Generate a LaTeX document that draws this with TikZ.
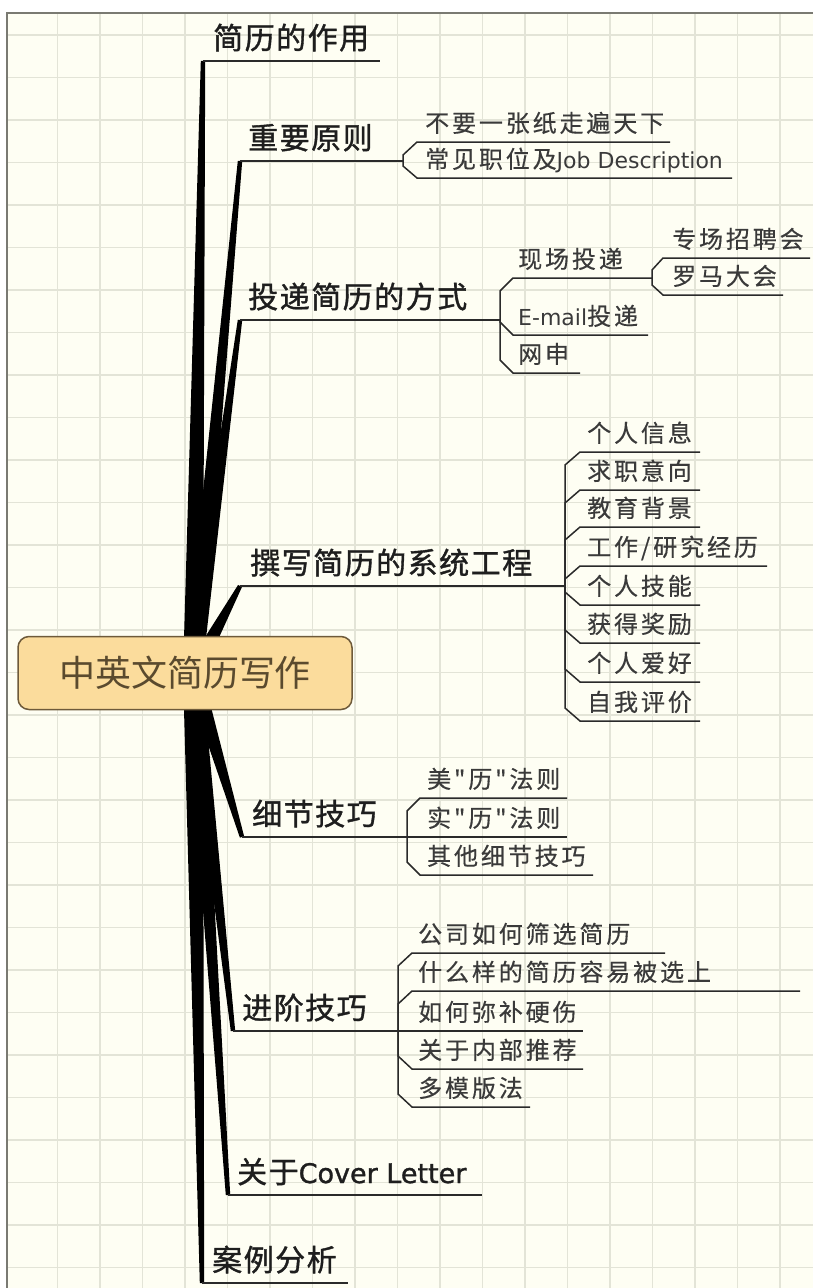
\documentclass[tikz,border=0pt]{standalone}
\usepackage{fontspec}
\setmainfont{DejaVu Sans}
\newfontfamily\cjkmain[LetterSpace=5,FakeBold=1.2]{Noto Sans CJK SC}
\newfontfamily\cjksub[LetterSpace=12,FakeBold=0.4]{Noto Sans CJK SC}
\newfontfamily\cjkroot{Noto Sans CJK SC}
\newfontfamily\latfont{DejaVu Sans}
\newfontfamily\latboldish[FakeBold=1.2]{DejaVu Sans}
\usetikzlibrary{calc}
\definecolor{bgcol}{HTML}{FEFEF3}
\definecolor{gridcol}{HTML}{E3E4D7}
\definecolor{framecol}{HTML}{7A7A72}
\definecolor{maintext}{HTML}{1E1E1E}
\definecolor{subtext}{HTML}{3A3A3A}
\definecolor{linecol}{HTML}{2A2A2A}
\definecolor{rootfill}{HTML}{FBDC9C}
\definecolor{rootdraw}{HTML}{6E5A3A}
\definecolor{roottext}{HTML}{5A4A2E}
\newcommand\mainfs{\fontsize{30}{30}\selectfont\cjkmain}
\newcommand\subfs{\fontsize{24}{24}\selectfont\cjksub}
\newcommand\latmain{\fontsize{27}{27}\selectfont\latboldish}
\newcommand\latsub{\fontsize{22}{22}\selectfont\latfont}
\newcommand\trunkwedge[4]{\fill[trunk] ($(#1)!#3!90:(#2)$) -- ($(#2)!#4!-90:(#1)$) -- ($(#2)!#4!90:(#1)$) -- ($(#1)!#3!-90:(#2)$) -- cycle;}
\tikzset{
  gridline/.style={draw=gridcol, line width=1.4pt},
  trunk/.style={fill=black},
  uline/.style={draw=linecol, line width=1.5pt, line join=miter},
  mainlabel/.style={font=\mainfs, text=maintext, inner sep=0pt, anchor=base west},
  sublabel/.style={font=\subfs, text=subtext, inner sep=0pt, anchor=base west},
  rootbox/.style={draw=rootdraw, line width=1.5pt, fill=rootfill, rounded corners=11pt,
    minimum width=334pt, minimum height=73pt, inner sep=0pt,
    font=\fontsize{36}{36}\selectfont\cjkroot, text=roottext},
}
\begin{document}
\begin{tikzpicture}[x=1pt, y=-1pt]
\useasboundingbox (0,0) rectangle (813,1288);
\fill[white] (0,0) rectangle (813,1288);
\fill[bgcol] (7,13) rectangle (813,1288);
\foreach \i in {0,...,17} \draw[gridline] ({57.5+42.5*\i},14) -- ({57.5+42.5*\i},1288);
\foreach \i in {0,...,29} \draw[gridline] (8,{35+42.5*\i}) -- (813,{35+42.5*\i});
\draw[framecol, line width=2pt] (7,1288) -- (7,13) -- (813,13);

% root and branch starts
\coordinate (R) at (193,673);
\coordinate (m1a) at (203,61);   \coordinate (m1b) at (380,61);
\coordinate (m2a) at (240,161);  \coordinate (m2b) at (403,161);
\coordinate (m3a) at (240,320);  \coordinate (m3b) at (500,320);
\coordinate (m4a) at (240,586);  \coordinate (m4b) at (565,586);
\coordinate (m5a) at (242,837);  \coordinate (m5b) at (407,837);
\coordinate (m6a) at (233,1031); \coordinate (m6b) at (398,1031);
\coordinate (m7a) at (228,1195); \coordinate (m7b) at (482,1195);
\coordinate (m8a) at (202,1283); \coordinate (m8b) at (348,1283);

% trunk wedges
\trunkwedge{R}{m1a}{10pt}{2.2pt}
\trunkwedge{R}{m2a}{9pt}{2.2pt}
\trunkwedge{R}{m3a}{9pt}{2.2pt}
\trunkwedge{R}{m4a}{9pt}{2.2pt}
\trunkwedge{R}{m5a}{9pt}{2.2pt}
\trunkwedge{R}{m6a}{9pt}{2.2pt}
\trunkwedge{R}{m7a}{9pt}{2.2pt}
\trunkwedge{R}{m8a}{10pt}{2.2pt}

% main underlines
\foreach \k in {1,...,8} \draw[uline] (m\k a) -- (m\k b);

% branch 2 children
\draw[uline] (m2b) -- (403,155) -- (417,142) -- (670,142);
\draw[uline] (m2b) -- (403,166) -- (417,178) -- (732,178);

% branch 3 children
\coordinate (c31b) at (652,278);
\draw[uline] (m3b) -- (500,291) -- (513,278) -- (c31b);
\draw[uline] (c31b) -- (652,270) -- (663,258) -- (810,258);
\draw[uline] (c31b) -- (652,285) -- (663,295) -- (783,295);
\draw[uline] (m3b) -- (500,322) -- (513,335) -- (648,335);
\draw[uline] (m3b) -- (500,360) -- (513,373) -- (580,373);

% branch 4 children
\draw[uline] (m4b) -- (565,465) -- (580,452) -- (700,452);
\draw[uline] (m4b) -- (565,503) -- (580,490) -- (700,490);
\draw[uline] (m4b) -- (565,540) -- (580,527) -- (700,527);
\draw[uline] (m4b) -- (565,579) -- (580,566) -- (767,566);
\draw[uline] (m4b) -- (565,592) -- (580,605) -- (700,605);
\draw[uline] (m4b) -- (565,630) -- (580,643) -- (700,643);
\draw[uline] (m4b) -- (565,669) -- (580,682) -- (700,682);
\draw[uline] (m4b) -- (565,708) -- (580,721) -- (700,721);

% branch 5 children
\draw[uline] (m5b) -- (407,811) -- (420,798) -- (567,798);
\draw[uline] (m5b) -- (567,837);
\draw[uline] (m5b) -- (407,862) -- (420,875) -- (593,875);

% branch 6 children
\draw[uline] (m6b) -- (398,966) -- (412,953) -- (665,953);
\draw[uline] (m6b) -- (398,1004) -- (412,991) -- (800,991);
\draw[uline] (m6b) -- (583,1031);
\draw[uline] (m6b) -- (398,1056) -- (412,1069) -- (583,1069);
\draw[uline] (m6b) -- (398,1094) -- (412,1107) -- (530,1107);

% root
\node[rootbox] (root) at (185,673) {中英文简历写作};

% main labels
\node[mainlabel] (t1) at (213,49) {简历的作用};
\node[mainlabel] (t2) at (248,149) {重要原则};
\node[mainlabel] (t3) at (248,308) {投递简历的方式};
\node[mainlabel] (t4) at (250,574) {撰写简历的系统工程};
\node[mainlabel] (t5) at (252,825) {细节技巧};
\node[mainlabel] (t6) at (242,1019) {进阶技巧};
\node[mainlabel] (t7) at (237,1183) {关于{\latmain Cover Letter}};
\node[mainlabel] (t8) at (212,1271) {案例分析};

% sub labels
\node[sublabel] (s21) at (425,132) {不要一张纸走遍天下};
\node[sublabel] (s22) at (425,168) {常见职位及{\latsub Job Description}};
\node[sublabel] (s31) at (518,268) {现场投递};
\node[sublabel] (s311) at (672,248) {专场招聘会};
\node[sublabel] (s312) at (672,285) {罗马大会};
\node[sublabel] (s32) at (518,325) {{\latsub E-mail}投递};
\node[sublabel] (s33) at (518,363) {网申};

\node[sublabel] (s41) at (587,442) {个人信息};
\node[sublabel] (s42) at (587,480) {求职意向};
\node[sublabel] (s43) at (587,517) {教育背景};
\node[sublabel] (s44) at (587,556) {工作/研究经历};
\node[sublabel] (s45) at (587,595) {个人技能};
\node[sublabel] (s46) at (587,633) {获得奖励};
\node[sublabel] (s47) at (587,672) {个人爱好};
\node[sublabel] (s48) at (587,711) {自我评价};

\node[sublabel] (s51) at (427,788) {美"历"法则};
\node[sublabel] (s52) at (427,827) {实"历"法则};
\node[sublabel] (s53) at (427,865) {其他细节技巧};

\node[sublabel] (s61) at (418,943) {公司如何筛选简历};
\node[sublabel] (s62) at (418,981) {什么样的简历容易被选上};
\node[sublabel] (s63) at (418,1021) {如何弥补硬伤};
\node[sublabel] (s64) at (418,1059) {关于内部推荐};
\node[sublabel] (s65) at (418,1097) {多模版法};
\end{tikzpicture}
\end{document}
